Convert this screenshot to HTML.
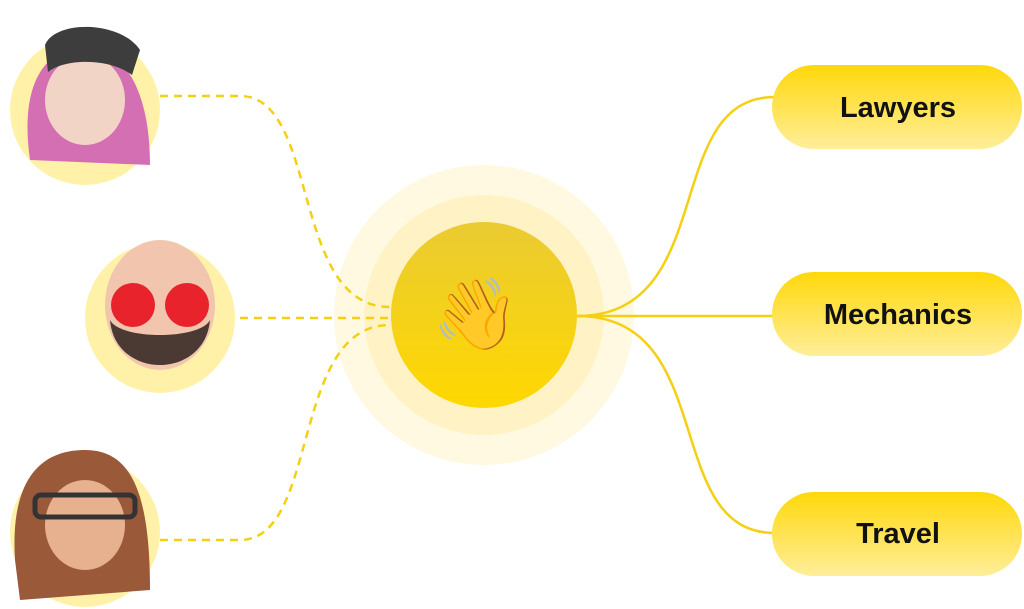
<!DOCTYPE html>
<html><head><meta charset="utf-8"><style>
html,body{margin:0;padding:0;background:#fff;width:1024px;height:609px;overflow:hidden}
</style></head><body>
<svg width="1024" height="609" viewBox="0 0 1024 609" xmlns="http://www.w3.org/2000/svg">
<defs>
<linearGradient id="pill" x1="0" y1="0" x2="0" y2="1"><stop offset="0" stop-color="#FFD80A"/><stop offset="1" stop-color="#FFEE9A"/></linearGradient>
<linearGradient id="core" x1="0" y1="0" x2="0" y2="1"><stop offset="0" stop-color="#EACB32"/><stop offset="1" stop-color="#FFD800"/></linearGradient>
</defs>
<circle cx="484" cy="315" r="150" fill="#FFF9E2"/>
<circle cx="484" cy="315" r="120" fill="#FFF3C6"/>
<circle cx="484" cy="315" r="93" fill="url(#core)"/>
<g fill="none" stroke="#F5CF12" stroke-width="2.5" stroke-dasharray="8,6">
<path d="M160 96 H240 C320 96 290 307 390 307"/>
<path d="M240 318 H390"/>
<path d="M160 540 H240 C320 540 290 325 390 325"/>
</g>
<g fill="none" stroke="#F5CF12" stroke-width="2.5">
<path d="M577 316 C720 316 660 97 775 97"/>
<path d="M577 316 H775"/>
<path d="M577 316 C720 316 660 533 775 533"/>
</g>
<rect x="772" y="65" width="250" height="84" rx="42" fill="url(#pill)"/>
<rect x="772" y="272" width="250" height="84" rx="42" fill="url(#pill)"/>
<rect x="772" y="492" width="250" height="84" rx="42" fill="url(#pill)"/>
<g font-family="Liberation Sans, sans-serif" font-size="29" font-weight="bold" fill="#111" text-anchor="middle">
<text x="898" y="117">Lawyers</text>
<text x="898" y="324">Mechanics</text>
<text x="898" y="543">Travel</text>
</g>
<text x="476" y="338" font-size="70" text-anchor="middle" font-family="sans-serif">👋</text>
<circle cx="85" cy="110" r="75" fill="#FFF2A8"/>
<path d="M30 160 C20 90 40 50 85 45 C130 50 150 100 150 165 Z" fill="#D46FB4"/>
<ellipse cx="85" cy="100" rx="40" ry="45" fill="#F2D4C6"/>
<path d="M45 45 C55 20 120 20 140 50 L132 75 C110 58 65 58 48 72 Z" fill="#3D3D3D"/>
<circle cx="160" cy="318" r="75" fill="#FFF2A8"/>
<ellipse cx="160" cy="305" rx="55" ry="65" fill="#F2C6AE"/>
<path d="M110 320 C115 380 205 380 210 320 C200 340 120 340 110 320 Z" fill="#4A3A33"/>
<circle cx="133" cy="305" r="22" fill="#E8232C"/><circle cx="187" cy="305" r="22" fill="#E8232C"/>
<circle cx="85" cy="532" r="75" fill="#FFF2A8"/>
<path d="M15 560 C10 480 40 450 85 450 C130 450 150 490 150 590 L20 600 Z" fill="#9A5A3A"/>
<ellipse cx="85" cy="525" rx="40" ry="45" fill="#E7B08E"/>
<rect x="35" y="495" width="100" height="22" rx="6" fill="none" stroke="#333" stroke-width="5"/>
</svg>
</body></html>
